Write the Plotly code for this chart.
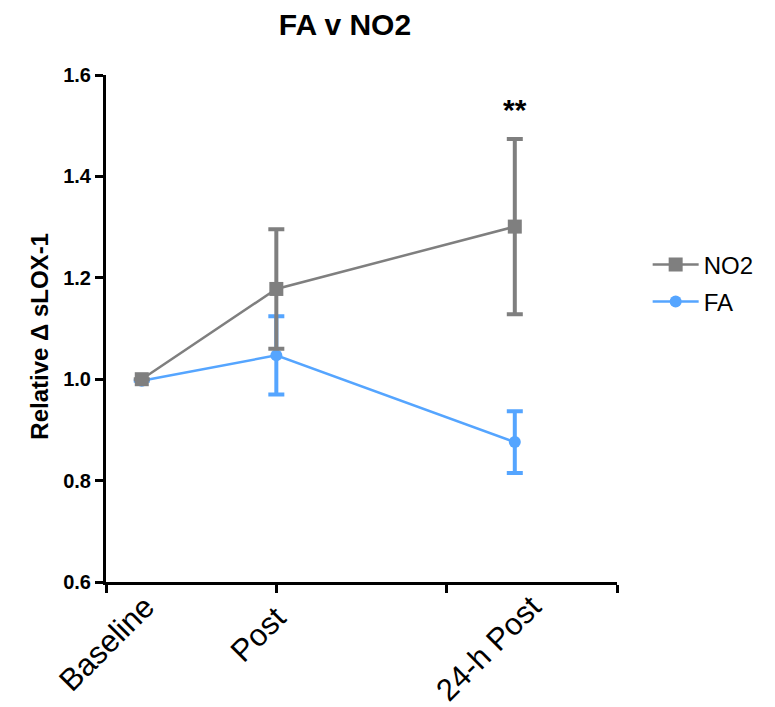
import plotly.graph_objects as go

# Time points and group means (relative change in sLOX-1)
categories = ["Baseline", "Post", "24-h Post"]
no2_mean = [1.0, 1.178, 1.301]
no2_err = [0.0, 0.118, 0.173]
fa_mean = [0.997, 1.047, 0.876]
fa_err = [0.0, 0.077, 0.061]
y_ticks = [0.6, 0.8, 1.0, 1.2, 1.4, 1.6]
y_title = "Relative Δ sLOX-1"
sig_label = "**"
sig_level = 1.532

# Horizontal placement of the time points and their labels on a 0..3 axis
X_POS = [0.21, 1.0, 2.4]
LABEL_X = [0.34, 1.11, 2.61]
LABEL_Y = [-0.008, -0.03, -0.008]

GRAY = "#7f7f7f"
BLUE = "#55a5ff"
FONT = "Liberation Sans, Arial, sans-serif"

fig = go.Figure()

# FA first so the NO2 square sits on top at baseline
fig.add_trace(go.Scatter(
    x=X_POS, y=fa_mean, name="FA", mode="lines+markers",
    legendgroup="fa", legendrank=2,
    line=dict(color=BLUE, width=2.5),
    marker=dict(symbol="circle", size=12, color=BLUE),
    error_y=dict(type="data", array=fa_err, color=BLUE, thickness=4, width=8),
))
fig.add_trace(go.Scatter(
    x=X_POS, y=no2_mean, name="NO2", mode="lines+markers",
    legendgroup="no2", legendrank=1,
    line=dict(color=GRAY, width=2.5),
    marker=dict(symbol="square", size=14, color=GRAY),
    error_y=dict(type="data", array=no2_err, color=GRAY, thickness=4, width=8),
))

fig.add_annotation(
    x=X_POS[2], y=sig_level, text=sig_label, showarrow=False,
    font=dict(family=FONT, size=30, color="black", weight="bold"),
    xref="x", yref="y",
)

# Rotated category labels under the x axis
for cat, lx, ly in zip(categories, LABEL_X, LABEL_Y):
    fig.add_annotation(
        x=lx, y=ly, xref="x", yref="paper", text=cat,
        showarrow=False, textangle=-45, xanchor="right", yanchor="top",
        font=dict(family=FONT, size=31, color="black"),
    )

# Vertical y-axis title
fig.add_annotation(
    x=-0.129, y=0.484, xref="paper", yref="paper", text=y_title,
    showarrow=False, textangle=-90, xanchor="center", yanchor="middle",
    font=dict(family=FONT, size=24, color="black", weight="bold"),
)

fig.update_layout(
    width=775, height=707,
    margin=dict(l=106, r=158, t=75, b=124.5),
    paper_bgcolor="white", plot_bgcolor="white",
    title=dict(
        text="FA v NO2", x=345 / 775, xref="container", xanchor="center",
        y=1 - 24 / 707, yref="container", yanchor="middle",
        font=dict(family=FONT, size=30, color="black", weight="bold"),
    ),
    showlegend=True,
    legend=dict(
        x=1.06, y=0.67, xanchor="left", yanchor="top",
        font=dict(family=FONT, size=24, color="black"),
        tracegroupgap=3, itemwidth=46, bgcolor="rgba(0,0,0,0)",
    ),
    xaxis=dict(
        range=[0, 3], tickvals=[0, 1, 2, 3], showticklabels=False,
        ticks="outside", ticklen=8, tickwidth=3, tickcolor="black",
        showline=True, linewidth=3, linecolor="black",
        showgrid=False, zeroline=False,
    ),
    yaxis=dict(
        range=[0.6, 1.6], tickvals=y_ticks, tickformat=".1f",
        ticks="outside", ticklen=8, tickwidth=3, tickcolor="black",
        showline=True, linewidth=3, linecolor="black",
        showgrid=False, zeroline=False,
        tickfont=dict(family=FONT, size=20, color="black", weight="bold"),
    ),
)

fig.write_html("out.html")
